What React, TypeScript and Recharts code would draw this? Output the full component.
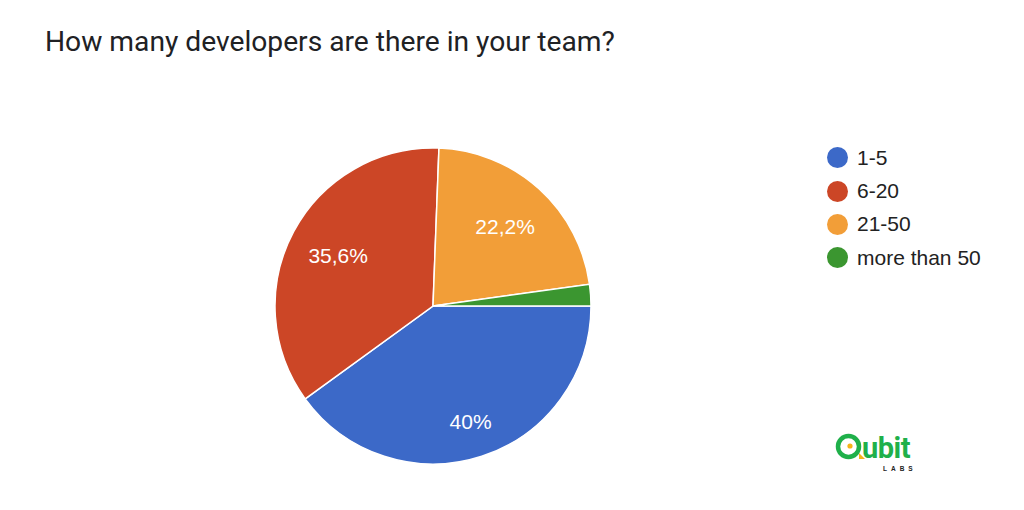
import { PieChart, Pie, Cell, Legend } from "recharts"

const categories = ["1-5", "6-20", "21-50", "more than 50"]
const shares = [40, 35.6, 22.2, 2.2]
const labels = ["40%", "35,6%", "22,2%", ""]
const colors = ["#3c69c8", "#cc4626", "#f29e38", "#3b9630"]

const data = categories.map((name, i) => ({
  name,
  value: shares[i],
  label: labels[i],
}))

const RADIAN = Math.PI / 180

type LabelProps = {
  cx: number
  cy: number
  midAngle: number
  outerRadius: number
  index: number
  percent: number
}

function SliceLabel({ cx, cy, midAngle, outerRadius, index, percent }: LabelProps) {
  const text = labels[index]
  if (!text) return null
  // the largest slice sits its label a little further out
  const r = outerRadius * (percent > 0.38 ? 0.77 : 0.68)
  const x = cx + r * Math.cos(-midAngle * RADIAN)
  const y = cy + r * Math.sin(-midAngle * RADIAN)
  return (
    <text
      x={x}
      y={y}
      fill="#ffffff"
      fontSize={21}
      fontFamily="'Liberation Sans', Arial, sans-serif"
      textAnchor="middle"
      dominantBaseline="central"
    >
      {text}
    </text>
  )
}

type LegendEntry = { value: string; color: string }

function LegendList({ payload }: { payload?: LegendEntry[] }) {
  if (!payload) return null
  // keep the data order, not the sorted payload order
  const entries = categories
    .map((name) => payload.find((p) => p.value === name))
    .filter((p): p is LegendEntry => !!p)
  return (
    <div style={{ fontFamily: "'Liberation Sans', Arial, sans-serif", fontSize: 21, color: "#222" }}>
      {entries.map((p) => (
        <div key={p.value} style={{ display: "flex", alignItems: "center", height: 33.4 }}>
          <span
            style={{
              display: "inline-block",
              width: 21,
              height: 21,
              borderRadius: "50%",
              background: p.color,
              marginRight: 9,
            }}
          />
          <span>{p.value}</span>
        </div>
      ))}
    </div>
  )
}

function QubitLogo() {
  return (
    <svg width={110} height={50} style={{ position: "absolute", left: 830, top: 428 }}>
      <circle cx={18.5} cy={18.5} r={10.5} fill="none" stroke="#1fb04a" strokeWidth={4.5} />
      <circle cx={20} cy={18} r={2.6} fill="#f5b318" />
      <path d="M29 25 L35 31 L29 31 Z" fill="#f5b318" />
      <text
        x={32}
        y={30}
        fill="#1fb04a"
        fontFamily="Roboto, 'Noto Sans', sans-serif"
        fontWeight={700}
        fontSize={29}
        letterSpacing={-0.5}
      >
        ubit
      </text>
      <text
        x={53}
        y={43}
        fill="#222"
        fontFamily="'Liberation Sans', Arial, sans-serif"
        fontWeight={700}
        fontSize={6.5}
        letterSpacing={4}
      >
        LABS
      </text>
    </svg>
  )
}

export default function App() {
  return (
    <div
      style={{
        position: "absolute",
        left: 0,
        top: 0,
        width: 1024,
        height: 510,
        background: "#ffffff",
        overflow: "hidden",
      }}
    >
      <div
        style={{
          position: "absolute",
          left: 45,
          top: 25,
          fontFamily: "Roboto, sans-serif",
          fontSize: 28.2,
          color: "#202124",
          whiteSpace: "nowrap",
        }}
      >
        How many developers are there in your team?
      </div>
      <PieChart width={1024} height={510} margin={{ top: 0, right: 0, bottom: 0, left: 0 }}>
        <Pie
          data={data}
          dataKey="value"
          nameKey="name"
          cx={433}
          cy={306}
          outerRadius={158}
          startAngle={0}
          endAngle={-360}
          stroke="#ffffff"
          strokeWidth={1.5}
          label={SliceLabel}
          labelLine={false}
          isAnimationActive={false}
        >
          {data.map((d, i) => (
            <Cell key={d.name} fill={colors[i]} />
          ))}
        </Pie>
        <Legend
          layout="vertical"
          verticalAlign="top"
          align="right"
          content={<LegendList />}
          wrapperStyle={{ position: "absolute", left: 827, top: 141, width: 180 }}
        />
      </PieChart>
      <QubitLogo />
    </div>
  )
}
